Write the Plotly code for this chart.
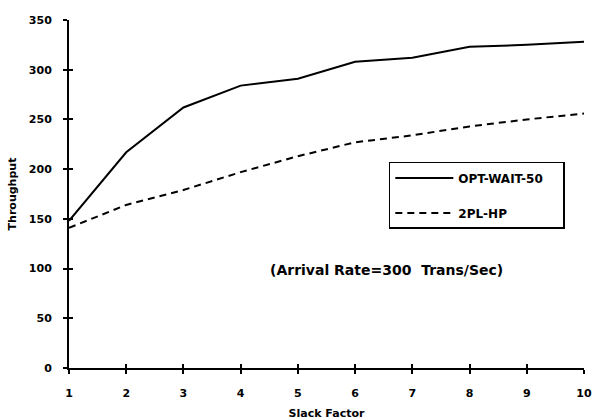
import plotly.graph_objects as go

slack = [1, 2, 3, 4, 5, 6, 7, 8, 9, 10]
opt_wait_50 = [148, 217, 262, 284, 291, 308, 312, 323, 325, 328]
twopl_hp = [141, 164, 179, 197, 213, 227, 234, 243, 250, 256]
x_ticks = [1, 2, 3, 4, 5, 6, 7, 8, 9, 10]
y_ticks = [0, 50, 100, 150, 200, 250, 300, 350]

FONT = "DejaVu Sans"
PAD = "<span style='color:rgba(0,0,0,0)'>---</span>"

fig = go.Figure()
fig.add_trace(go.Scatter(x=slack, y=opt_wait_50, mode="lines", name="OPT-WAIT-50" + PAD,
                         line=dict(color="black", width=2), legendgroup="a"))
fig.add_trace(go.Scatter(x=slack, y=twopl_hp, mode="lines", name="2PL-HP",
                         line=dict(color="black", width=2, dash="7px,5px"), legendgroup="b"))

axis_common = dict(showgrid=False, zeroline=False, linecolor="black", linewidth=2,
                   tickcolor="black", tickwidth=2, ticklen=4, automargin=False)

fig.update_layout(
    width=592, height=420,
    margin=dict(l=69, r=8, t=20, b=52, autoexpand=False),
    paper_bgcolor="white", plot_bgcolor="white",
    font=dict(family=FONT, color="black", size=10),
    showlegend=True,
    legend=dict(x=0.621, y=0.592, xanchor="left", yanchor="top",
                bordercolor="black", borderwidth=1.5, bgcolor="white",
                traceorder="grouped", tracegroupgap=16, itemwidth=58,
                font=dict(family=FONT, size=12, weight="bold")),
    xaxis=dict(range=[1, 10], tickmode="array", tickvals=x_ticks, ticks="outside",
               tickfont=dict(family=FONT, size=11, weight="bold"),
               ticklabelstandoff=10,
               title=dict(text="Slack Factor", font=dict(family=FONT, size=11, weight="bold"), standoff=18),
               **axis_common),
    yaxis=dict(range=[0, 350], tickmode="array", tickvals=y_ticks, ticks="outside",
               tickfont=dict(family=FONT, size=11, weight="bold"),
               ticklabelstandoff=9,
               title=dict(text="Throughput", font=dict(family=FONT, size=11, weight="bold"), standoff=10),
               **axis_common),
    xaxis2=dict(range=[1, 10], overlaying="x", tickmode="array", tickvals=x_ticks, ticks="inside",
                showticklabels=False, showline=False, showgrid=False, zeroline=False,
                tickcolor="black", tickwidth=2, ticklen=4, side="bottom", anchor="y"),
    yaxis2=dict(range=[0, 350], overlaying="y", tickmode="array", tickvals=y_ticks, ticks="inside",
                showticklabels=False, showline=False, showgrid=False, zeroline=False,
                tickcolor="black", tickwidth=2, ticklen=4, side="left", anchor="x"),
    annotations=[dict(text="(Arrival Rate=300  Trans/Sec)", xref="paper", yref="paper",
                      x=0.617, y=0.282, xanchor="center", yanchor="middle", showarrow=False,
                      font=dict(family=FONT, size=14, weight="bold"))],
)
fig.add_trace(go.Scatter(x=[None], y=[None], xaxis="x2", yaxis="y2", showlegend=False, hoverinfo="skip"))

fig.write_html("out.html", config={"displayModeBar": False},
               post_script="document.body.style.margin='0';")
